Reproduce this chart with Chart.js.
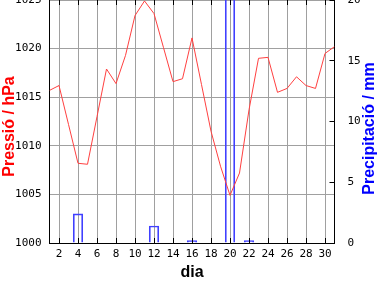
<!DOCTYPE html>
<html>
<head>
<meta charset="utf-8">
<script src="https://cdn.jsdelivr.net/npm/chart.js@4.4.0/dist/chart.umd.min.js"></script>
<style>
  html, body { margin: 0; padding: 0; background: #fff; }
  #wrap { width: 384px; height: 288px; }
</style>
</head>
<body>
<div id="wrap"><canvas id="meteoChart" width="384" height="288"></canvas></div>
<script>
// --- DATA ---
const days = [1, 2, 3, 4, 5, 6, 7, 8, 9, 10, 11, 12, 13, 14, 15, 16,
              17, 18, 19, 20, 21, 22, 23, 24, 25, 26, 27, 28, 29, 30, 31];
const pressure = [1015.7, 1016.2, 1012.2, 1008.2, 1008.1, 1013.0, 1017.9, 1016.4,
                  1019.3, 1023.4, 1024.9, 1023.6, 1020.1, 1016.6, 1016.9, 1021.1,
                  1016.3, 1011.5, 1007.9, 1004.9, 1007.2, 1013.7, 1019.0, 1019.1,
                  1015.5, 1015.9, 1017.1, 1016.2, 1015.9, 1019.5, 1020.2];
const rain = [0, 0, 0, 2.4, 0, 0, 0, 0, 0, 0, 0, 1.4, 0, 0, 0, 0.2,
              0, 0, 0, 24, 0, 0.2, 0, 0, 0, 0, 0, 0, 0, 0];
const dayTicks = [2, 4, 6, 8, 10, 12, 14, 16, 18, 20, 22, 24, 26, 28, 30];

const tickFont = { family: 'DejaVu Sans Mono', size: 11 };
const gridGray = '#a0a0a0';
const plainNum = v => String(v);

// ticks drawn inside the frame + the two side titles
const frameExtras = {
    id: 'frameExtras',
    afterDraw(chart) {
        const { ctx, chartArea: a, scales: { x, y1 } } = chart;
        ctx.save();
        ctx.strokeStyle = '#000';
        ctx.lineWidth = 1;
        ctx.beginPath();
        x.ticks.forEach(t => {
            const px = Math.round(x.getPixelForValue(t.value) - 0.5) + 0.5;
            ctx.moveTo(px, a.bottom); ctx.lineTo(px, a.bottom - 5);
            ctx.moveTo(px, a.top); ctx.lineTo(px, a.top + 5);
        });
        y1.ticks.forEach(t => {
            const py = Math.round(y1.getPixelForValue(t.value) - 0.5) + 0.5;
            ctx.moveTo(a.right, py); ctx.lineTo(a.right - 5, py);
        });
        ctx.stroke();

        ctx.font = 'bold 16px "Liberation Sans"';
        ctx.textAlign = 'center';
        ctx.textBaseline = 'alphabetic';
        const midY = (a.top + a.bottom) / 2;
        ctx.save();
        ctx.translate(13.5, midY + 5);
        ctx.rotate(-Math.PI / 2);
        ctx.fillStyle = '#ff0000';
        ctx.fillText('Pressió / hPa', 0, 0);
        ctx.restore();
        ctx.save();
        ctx.translate(373.5, midY + 7);
        ctx.rotate(-Math.PI / 2);
        ctx.fillStyle = '#0000ff';
        ctx.fillText('Precipitació / mm', 0, 0);
        ctx.restore();
        ctx.restore();
    }
};

const ctx = document.getElementById('meteoChart').getContext('2d');

const meteoChart = new Chart(ctx, {
    type: 'bar',
    data: {
        datasets: [{
            type: 'line',
            label: 'Pressió',
            data: days.map((d, i) => ({ x: d, y: pressure[i] })),
            yAxisID: 'y',
            borderColor: '#ff4040',
            borderWidth: 1,
            pointRadius: 0,
            tension: 0
        }, {
            type: 'bar',
            label: 'Precipitació',
            data: rain.map((v, i) => ({ x: days[i], y: v })),
            yAxisID: 'y1',
            borderColor: '#4040ff',
            backgroundColor: 'rgba(0,0,0,0)',
            borderWidth: 1,
            categoryPercentage: 1,
            barPercentage: 1
        }]
    },
    options: {
        responsive: false,
        animation: false,
        layout: { padding: 0 },
        plugins: { legend: { display: false }, tooltip: { enabled: false } },
        scales: {
            x: {
                type: 'linear',
                min: 1,
                max: 31,
                offset: false,
                grid: { color: gridGray, drawTicks: false, offset: false },
                border: { color: '#000' },
                ticks: { font: tickFont, color: '#000', padding: 5, maxRotation: 0, callback: plainNum },
                title: {
                    display: true,
                    text: 'dia',
                    color: '#000',
                    font: { family: 'Liberation Sans', size: 16, weight: 'bold' },
                    padding: { top: 0, bottom: 6 }
                },
                afterBuildTicks: s => { s.ticks = dayTicks.map(v => ({ value: v })); },
                afterFit: s => { s.height = 45; s.paddingLeft = 0; s.paddingRight = 0; }
            },
            y: {
                position: 'left',
                min: 1000,
                max: 1025,
                grid: { color: gridGray, drawTicks: false },
                border: { color: '#000' },
                ticks: { stepSize: 5, font: tickFont, color: '#000', padding: 8, callback: plainNum },
                afterFit: s => { s.width = 49.5; s.paddingTop = 0; s.paddingBottom = 0; }
            },
            y1: {
                position: 'right',
                min: 0,
                max: 20,
                grid: { drawOnChartArea: false, drawTicks: false },
                border: { color: '#000' },
                ticks: { stepSize: 5, font: tickFont, color: '#000', padding: 13, callback: plainNum },
                afterFit: s => { s.width = 49.5; s.paddingTop = 0; s.paddingBottom = 0; }
            }
        }
    },
    plugins: [frameExtras]
});
</script>
</body>
</html>
